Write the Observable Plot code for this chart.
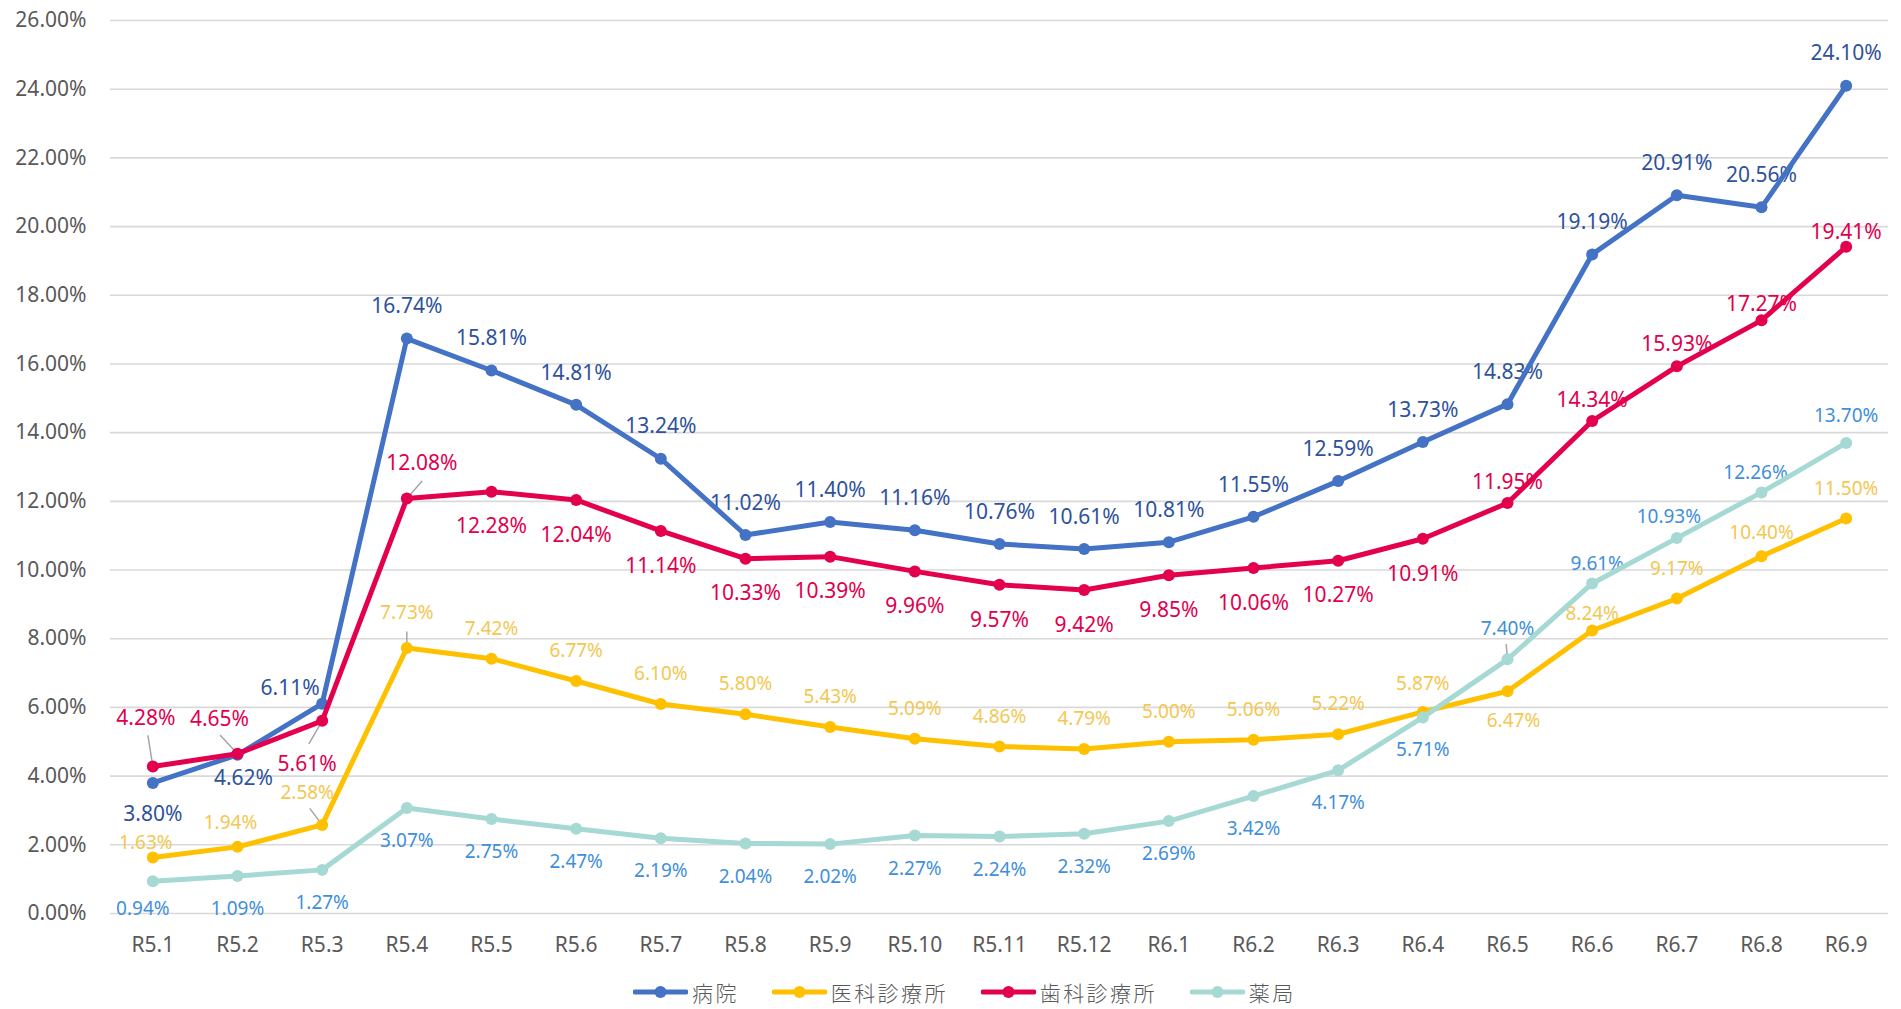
<!DOCTYPE html>
<html>
<head>
<meta charset="utf-8">
<script src="https://cdn.jsdelivr.net/npm/d3@7"></script>
<script src="https://cdn.jsdelivr.net/npm/@observablehq/plot@0.6"></script>
<style>
  body { margin: 0; background: #fff; font-family: "Noto Sans", "Noto Sans CJK JP", sans-serif; }
  #wrap { position: relative; width: 1901px; height: 1009px; }
  #legend { position: absolute; left: 633px; top: 982px; height: 20px; display: flex; align-items: center;
            color: #595959; font-family: "Noto Sans CJK JP", "Noto Sans", sans-serif; font-size: 21px; line-height: 20px; font-weight: 300; letter-spacing: 2.4px; }
  .item { display: flex; align-items: center; margin-right: 33px; height: 20px; }
  .item svg { margin-right: 4px; display: block; }
</style>
</head>
<body>
<div id="wrap"><div id="chart"></div><div id="legend"></div></div>
<script>
// ---- data ----
const months = ["R5.1","R5.2","R5.3","R5.4","R5.5","R5.6","R5.7","R5.8","R5.9","R5.10","R5.11","R5.12",
                "R6.1","R6.2","R6.3","R6.4","R6.5","R6.6","R6.7","R6.8","R6.9"];
const seriesNames = ["病院","医科診療所","歯科診療所","薬局"];
const hospital = [3.80,4.62,6.11,16.74,15.81,14.81,13.24,11.02,11.40,11.16,10.76,10.61,10.81,11.55,12.59,13.73,14.83,19.19,20.91,20.56,24.10];
const medical  = [1.63,1.94,2.58,7.73,7.42,6.77,6.10,5.80,5.43,5.09,4.86,4.79,5.00,5.06,5.22,5.87,6.47,8.24,9.17,10.40,11.50];
const dental   = [4.28,4.65,5.61,12.08,12.28,12.04,11.14,10.33,10.39,9.96,9.57,9.42,9.85,10.06,10.27,10.91,11.95,14.34,15.93,17.27,19.41];
const pharmacy = [0.94,1.09,1.27,3.07,2.75,2.47,2.19,2.04,2.02,2.27,2.24,2.32,2.69,3.42,4.17,5.71,7.40,9.61,10.93,12.26,13.70];
const yTicks = [0,2,4,6,8,10,12,14,16,18,20,22,24,26];

// ---- styling / layout ----
const seriesValues = [hospital, medical, dental, pharmacy];
const lineColors  = ["#4472C4","#FFC000","#E3004F","#A6D9D4"];
const labelColors = ["#2E529C","#F3C752","#E0004D","#3F8FDB"];
const labelSizes  = [21, 19, 21, 19];
// label offsets in px: default + overrides by month index
const labelOffsets = [
  {def:[0,-32], 0:[0,31], 1:[6,23], 2:[-32,-15]},
  {def:[0,-30], 0:[-7,-15], 1:[-7,-24], 2:[-15,-32], 3:[0,-35], 15:[0,-28], 16:[6,30], 17:[0,-17], 19:[0,-23]},
  {def:[0,35], 0:[-7,-48], 1:[-18,-35], 2:[-15,43], 3:[15,-35], 16:[0,-21], 17:[0,-21], 18:[0,-22], 19:[0,-16], 20:[0,-15]},
  {def:[0,33], 0:[-10,28], 16:[0,-30], 17:[5,-20], 18:[-8,-21], 19:[-6,-20], 20:[0,-27]}
];
// leader lines: [series, month index, length px, rotate deg]
const leaders = [
  [2,0,31,-9],[2,1,25,-43],[2,2,26,-150],[1,2,20,-37],[2,3,23,41],[1,3,16,0],[3,16,15,-5]
];

const fmt = v => v.toFixed(2) + "%";
const rowsBySeries = seriesValues.map((vals, s) =>
  months.map((m, i) => ({month: m, value: vals[i], series: seriesNames[s]})));

const marks = [];
marks.push(Plot.gridY(yTicks, {stroke: "#D9D9D9", strokeOpacity: 1, strokeWidth: 1.6}));
marks.push(Plot.axisY({ticks: yTicks, tickFormat: fmt, tickSize: 0, tickPadding: 24, fontSize: 21, label: null}));
marks.push(Plot.axisX({tickSize: 0, tickPadding: 24, fontSize: 21, label: null}));

// labels
rowsBySeries.forEach((rows, s) => {
  rows.forEach((r, i) => {
    const off = labelOffsets[s][i] || labelOffsets[s].def;
    marks.push(Plot.text([r], {x: "month", y: "value", text: d => fmt(d.value),
      dx: off[0], dy: off[1], fill: labelColors[s], fontSize: labelSizes[s]}));
  });
});

// leader lines
const leaderShape = { draw(context, l) { context.moveTo(0, 0); context.lineTo(0, -l); } };
try {
  leaders.forEach(([s, i, len, rot]) => {
    marks.push(Plot.vector([rowsBySeries[s][i]], {x: "month", y: "value", length: len, rotate: rot,
      anchor: "start", shape: leaderShape, stroke: "#A6A6A6", strokeWidth: 1.5}));
  });
} catch (e) { console.log(e); }

// lines + markers
rowsBySeries.forEach((rows, s) => {
  marks.push(Plot.line(rows, {x: "month", y: "value", stroke: lineColors[s], strokeWidth: 5, strokeLinejoin: "round"}));
  marks.push(Plot.dot(rows, {x: "month", y: "value", r: 6, fill: lineColors[s], stroke: "none"}));
});

const chart = Plot.plot({
  width: 1901,
  height: 975,
  marginLeft: 110,
  marginRight: 13,
  marginTop: 20,
  marginBottom: 62,
  style: {fontFamily: '"Noto Sans", "Noto Sans CJK JP", sans-serif', color: "#595959", background: "#fff"},
  x: {type: "point", domain: months, padding: 0.5, round: false, label: null},
  y: {domain: [0, 26], label: null},
  marks
});
document.getElementById("chart").appendChild(chart);

// legend
const legend = document.getElementById("legend");
seriesNames.forEach((name, s) => {
  const item = document.createElement("div");
  item.className = "item";
  item.innerHTML = `<svg width="55" height="20"><line x1="2" y1="10" x2="53" y2="10" stroke="${lineColors[s]}" stroke-width="5" stroke-linecap="round"/><circle cx="27.5" cy="10" r="6" fill="${lineColors[s]}"/></svg><span>${name}</span>`;
  legend.appendChild(item);
});
</script>
</body>
</html>
